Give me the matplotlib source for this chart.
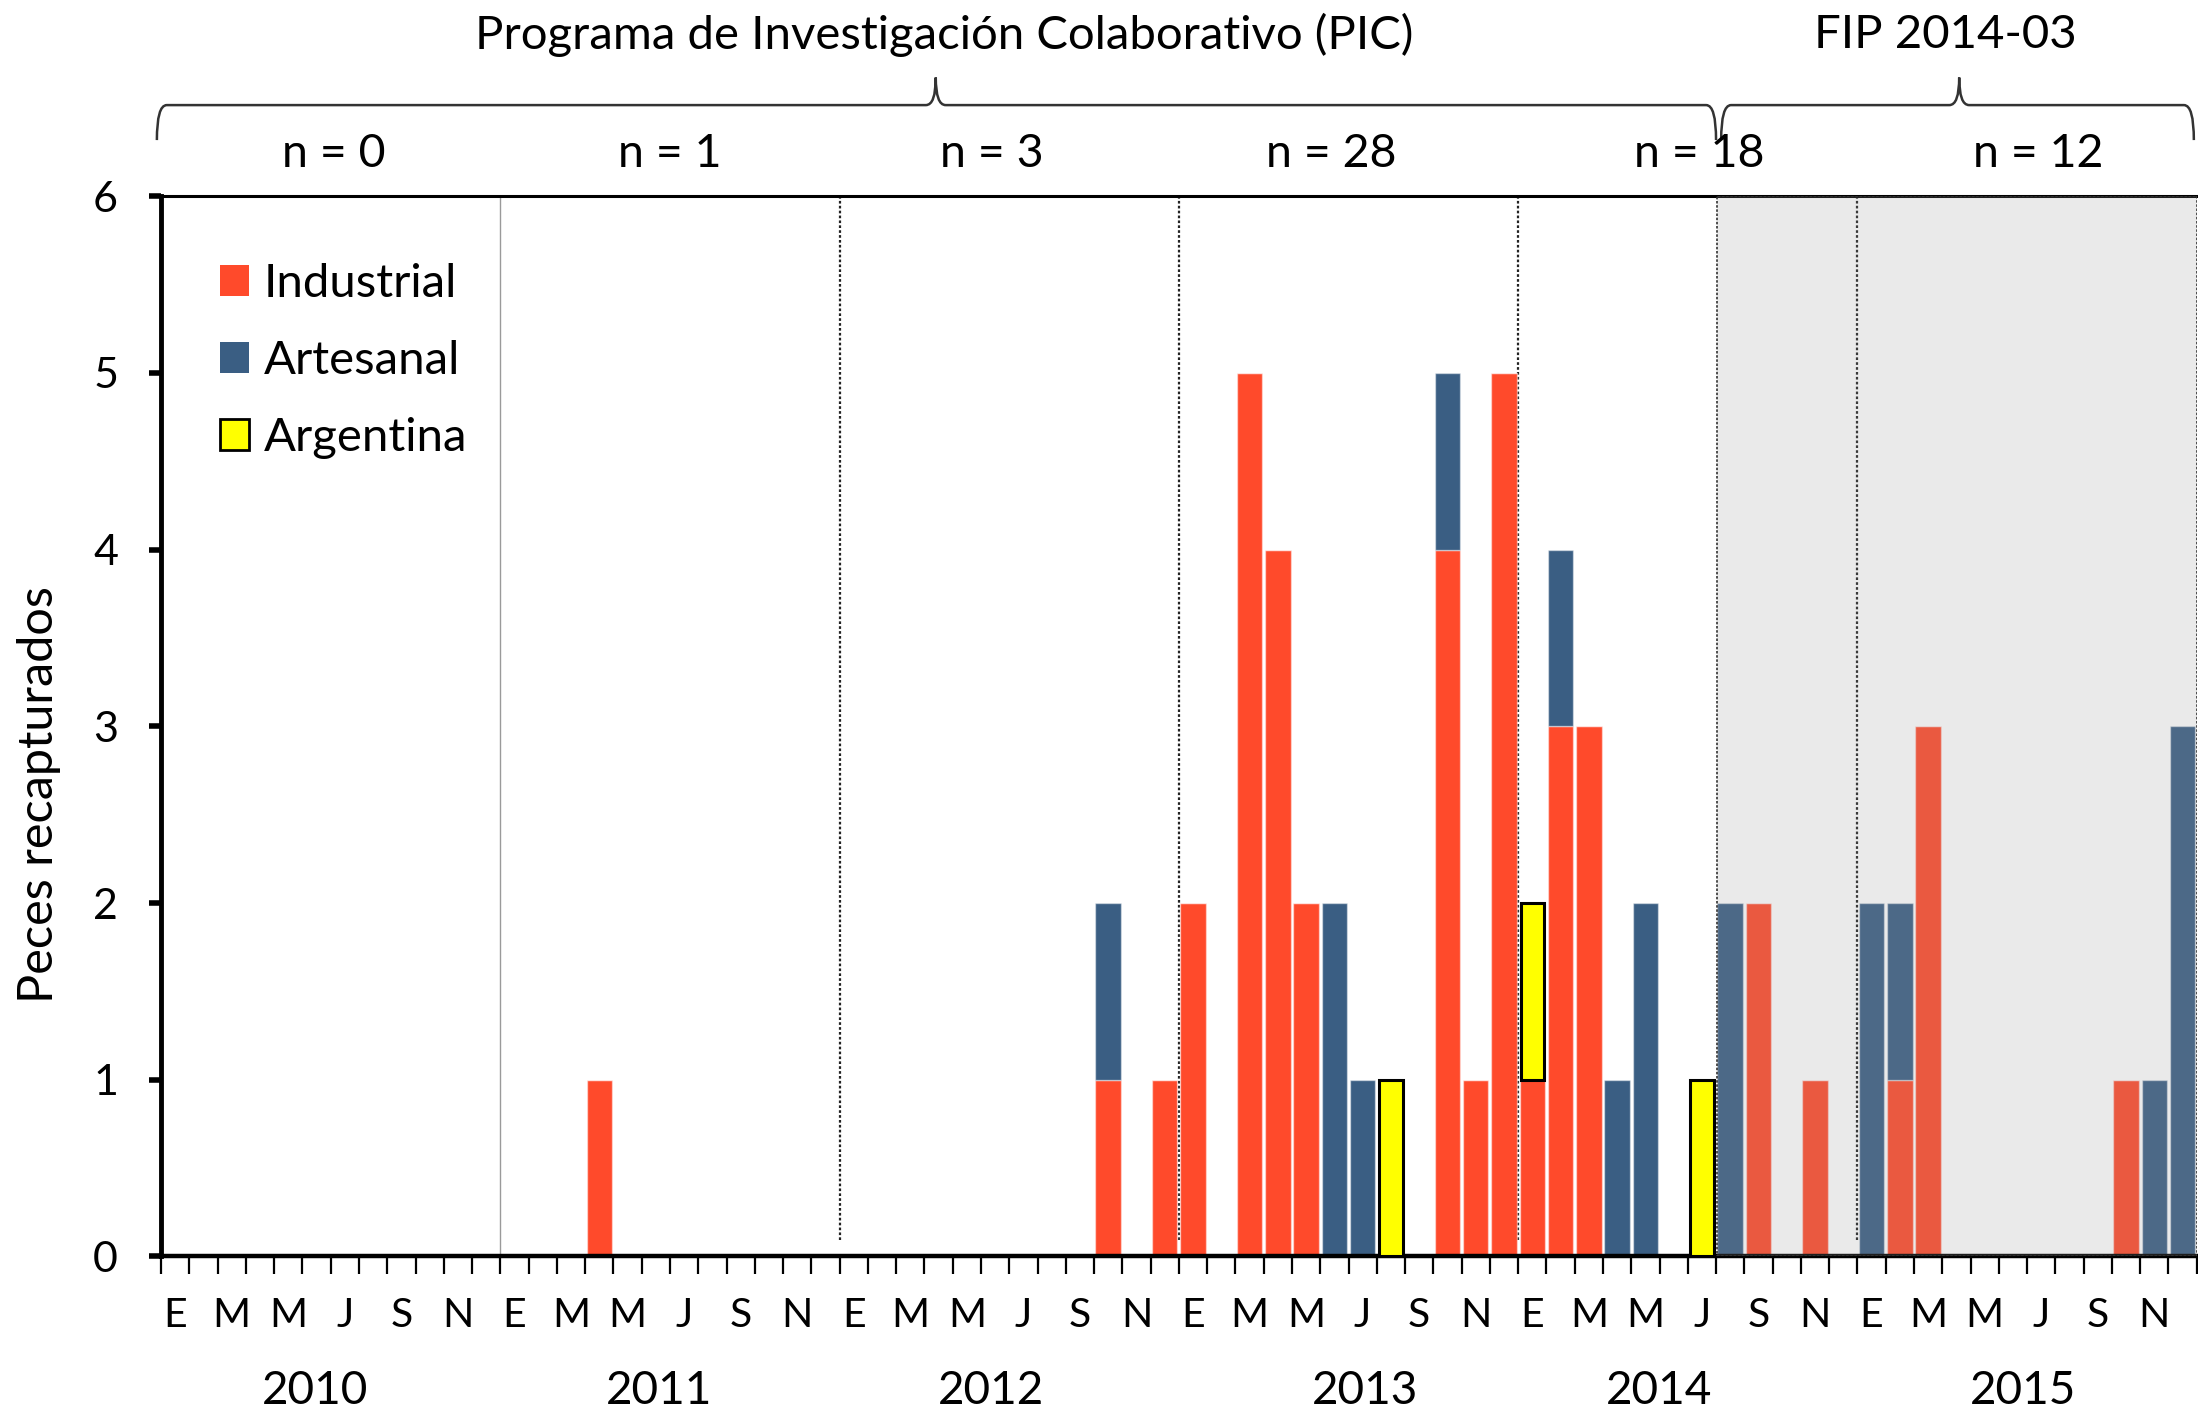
import matplotlib
matplotlib.use("Agg")
import matplotlib.pyplot as plt
import matplotlib.transforms as mtransforms
from matplotlib.path import Path
from matplotlib.patches import PathPatch, Patch, Rectangle
import numpy as np

plt.rcParams['font.family'] = ['Lato', 'DejaVu Sans']

# ---- data ----
years = ['2010', '2011', '2012', '2013', '2014', '2015']
month_letters = ['E', 'F', 'M', 'A', 'M', 'J', 'J', 'A', 'S', 'O', 'N', 'D']
n_labels = ['n = 0', 'n = 1', 'n = 3', 'n = 28', 'n = 18', 'n = 12']
series_names = ['Industrial', 'Artesanal', 'Argentina']

# month index (0 = Ene 2010) -> count
industrial_months = [15, 33, 35, 36, 38, 39, 40, 45, 46, 47, 48, 49, 50, 56, 58, 61, 62, 69]
industrial_vals   = [1,  1,  1,  2,  5,  4,  2,  4,  1,  5,  1,  3,  3,  2,  1,  1,  3,  1]
artesanal_months  = [33, 41, 42, 45, 49, 51, 52, 55, 60, 61, 70, 71]
artesanal_vals    = [1,  2,  1,  1,  1,  1,  2,  2,  2,  1,  1,  3]
argentina_months  = [43, 48, 54]
argentina_vals    = [1,  1,  1]

program_labels = ['Programa de Investigación Colaborativo (PIC)', 'FIP 2014-03']

# ---- build arrays ----
nm = 72
ind = np.zeros(nm); art = np.zeros(nm); arg = np.zeros(nm)
ind[industrial_months] = industrial_vals
art[artesanal_months] = artesanal_vals
arg[argentina_months] = argentina_vals
x = np.arange(nm)

c_ind = '#FF4A2B'
c_art = '#3A5E83'
c_arg = '#FFFF00'

fig = plt.figure(figsize=(21.98, 14.12), dpi=100)
ax = fig.add_axes([0.0733, 0.1102, 0.9261, 0.7508])

w = 0.9
ax.bar(x, ind, width=w, color=c_ind, edgecolor=(1, 1, 1, 0.45), linewidth=1, zorder=2)
ax.bar(x, art, width=w, bottom=ind, color=c_art, edgecolor=(1, 1, 1, 0.45), linewidth=1, zorder=2)
mask = arg > 0
ax.bar(x[mask], arg[mask], width=w * 0.92, bottom=(ind + art)[mask], color=c_arg,
       edgecolor='black', linewidth=2.2, zorder=3)

ax.set_xlim(-0.5, 71.5)
ax.set_ylim(0, 6)

# gray region (FIP)
ax.add_patch(Rectangle((54.55, 0), 71.5 - 54.55, 6, facecolor=(0.6, 0.6, 0.6, 0.2),
                       edgecolor='#333333', linewidth=1.2, linestyle=(0, (1.5, 1.0)), zorder=4))

# separators
ax.axvline(11.5, color='#9a9a9a', lw=1.0, zorder=1)
for xs, ymin in [(23.5, 0.015), (35.5, 0.015), (47.5, 0.015), (59.5, 0.015)]:
    ax.axvline(xs, ymin=ymin, ymax=1, color='#222222', lw=1.6, linestyle=(0, (1.2, 1.0)), zorder=1)

# spines
ax.spines['right'].set_visible(False)
ax.spines['left'].set_linewidth(3.5)
ax.spines['bottom'].set_linewidth(3.2)
ax.spines['top'].set_linewidth(2.2)

# y ticks
ax.set_yticks(range(0, 7))
ax.tick_params(axis='y', length=9, width=4, labelsize=31, pad=22)

# x ticks: boundaries as major ticks, labels at every other month center
ax.set_xticks(np.arange(-0.5, 72, 1.0))
ax.set_xticklabels([])
ax.tick_params(axis='x', which='major', length=13, width=1.6, direction='out')
ax.set_xticks(np.arange(0, 72, 2), minor=True)
ax.set_xticklabels([month_letters[i % 12] for i in range(0, 72, 2)], minor=True)
ax.tick_params(axis='x', which='minor', length=0, labelsize=29.5, pad=29)

trans = mtransforms.blended_transform_factory(ax.transData, ax.transAxes)

# year labels
year_x = [4.95, 17.1, 28.85, 42.1, 52.5, 65.35]
for yx, yl in zip(year_x, years):
    ax.text(yx, -0.127, yl, transform=trans, ha='center', va='center', fontsize=33)

# n labels
n_x = [5.6, 17.5, 28.9, 40.9, 53.9, 65.9]
for nx, nl in zip(n_x, n_labels):
    ax.text(nx, 1.04, nl, transform=trans, ha='center', va='center', fontsize=33.5)

# braces
def brace(x0, x1, xm, yb=1.053, yh=1.086, yp=1.112, dx=0.35):
    verts = [(x0, yb), (x0, yh), (x0 + dx, yh), (xm - dx, yh), (xm, yh), (xm, yp),
             (xm, yh), (xm + dx, yh), (x1 - dx, yh), (x1, yh), (x1, yb)]
    codes = [Path.MOVETO, Path.CURVE3, Path.CURVE3, Path.LINETO, Path.CURVE3, Path.CURVE3,
             Path.CURVE3, Path.CURVE3, Path.LINETO, Path.CURVE3, Path.CURVE3]
    p = PathPatch(Path(verts, codes), facecolor='none', edgecolor='#333333', lw=1.8,
                  transform=trans, clip_on=False)
    ax.add_patch(p)

brace(-0.65, 54.5, 26.9)
brace(54.68, 71.4, 63.1)
ax.text(27.2, 1.152, program_labels[0], transform=trans, ha='center', va='center', fontsize=34)
ax.text(62.6, 1.152, program_labels[1], transform=trans, ha='center', va='center', fontsize=34)

# y label
fig.text(0.0179, 0.437, 'Peces recapturados', rotation=90, ha='center', va='center',
         fontsize=35)

# legend
handles = [Patch(facecolor=c_ind, edgecolor='none'),
           Patch(facecolor=c_art, edgecolor='none'),
           Patch(facecolor=c_arg, edgecolor='black', linewidth=2)]
leg = ax.legend(handles, series_names, loc='upper left', bbox_to_anchor=(0.029, 0.937),
                frameon=False, fontsize=34, handlelength=0.62, handleheight=0.62,
                handletextpad=0.3, labelspacing=0.745, borderaxespad=0, borderpad=0)

fig.savefig('out.png', dpi=100)
